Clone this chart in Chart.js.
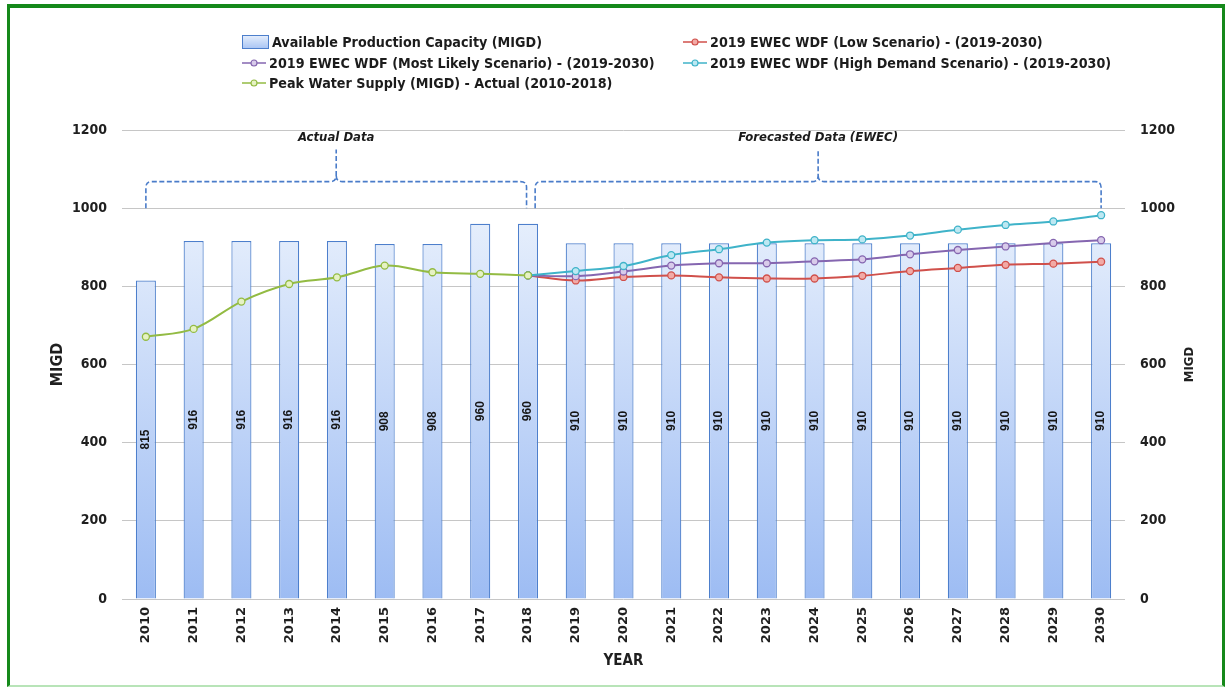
<!DOCTYPE html>
<html>
<head>
<meta charset="utf-8">
<title>Water Production Capacity vs Demand</title>
<script src="https://cdn.jsdelivr.net/npm/chart.js@4.4.0/dist/chart.umd.min.js"></script>
<style>
  html, body { margin: 0; padding: 0; background: #fff; }
  #wrap { position: relative; width: 1227px; height: 687px; overflow: hidden; }
  #chart { position: absolute; left: 0; top: 0; }
  #frame {
    position: absolute; left: 7px; top: 4px; right: 2px; bottom: 0;
    border: 3px solid #15891a; border-top-width: 4px;
    border-bottom: 2px solid #b8e4b8;
    pointer-events: none;
  }
  #legend {
    position: absolute; left: 242px; top: 32px;
    display: grid; grid-template-columns: 441px auto;
    font: bold 14.2px 'Liberation Sans Narrow', 'DejaVu Sans Condensed', sans-serif;
    color: #1c1c1c;
  }
  #legend .item { display: flex; align-items: center; height: 20.5px; white-space: nowrap; }
  #legend svg { margin-right: 3px; flex: none; }
</style>
</head>
<body>
<div id="wrap">
  <canvas id="chart" width="1227" height="687"></canvas>
  <div id="legend"></div>
  <div id="frame"></div>
</div>
<script>
const years = ['2010', '2011', '2012', '2013', '2014', '2015', '2016', '2017', '2018', '2019',
  '2020', '2021', '2022', '2023', '2024', '2025', '2026', '2027', '2028', '2029', '2030'];

const capacity = [815, 916, 916, 916, 916, 908, 908, 960, 960, 910,
  910, 910, 910, 910, 910, 910, 910, 910, 910, 910, 910];

const peakSupply = [671, 691, 761, 806, 823, 853, 836, 832, 828, null,
  null, null, null, null, null, null, null, null, null, null, null];

const lowScenario = [null, null, null, null, null, null, null, null, 828, 815,
  824, 828, 823, 820, 820, 827, 839, 847, 855, 858, 863];

const mostLikely = [null, null, null, null, null, null, null, null, 828, 826,
  838, 853, 859, 859, 864, 869, 882, 893, 902, 911, 918];

const highDemand = [null, null, null, null, null, null, null, null, 828, 839,
  852, 880, 895, 912, 918, 920, 930, 945, 957, 966, 982];

// bracket spans over the category axis (index units)
const brackets = [
  { from: 0, to: 7.97, text: 'Actual Data' },
  { from: 8.15, to: 20, text: 'Forecasted Data (EWEC)' },
];

const narrow = "'Liberation Sans Narrow', 'DejaVu Sans Condensed', sans-serif";
const axisText = '#1f1f1f';

function barFill(context) {
  const chart = context.chart;
  const area = chart.chartArea;
  if (!area) return '#c6d9f7';
  const top = chart.scales.y.getPixelForValue(Math.max(...capacity));
  const g = chart.ctx.createLinearGradient(0, top, 0, area.bottom);
  g.addColorStop(0, '#e5eefc');
  g.addColorStop(1, '#9dbcf3');
  return g;
}

function lineSet(label, data, color, fill, order) {
  return {
    type: 'line',
    label,
    data,
    borderColor: color,
    backgroundColor: fill,
    pointBackgroundColor: fill,
    pointBorderColor: color,
    pointRadius: 3.5,
    pointBorderWidth: 1.3,
    borderWidth: 2,
    tension: 0.35,
    order,
    yAxisID: 'y',
  };
}

const datasets = [
  {
    type: 'bar',
    label: 'Available Production Capacity (MIGD)',
    data: capacity,
    backgroundColor: barFill,
    borderColor: '#4d7fcc',
    borderWidth: 1.2,
    barPercentage: 0.42,
    categoryPercentage: 1,
    order: 5,
    yAxisID: 'y',
  },
  lineSet('2019 EWEC WDF (Low Scenario) - (2019-2030)', lowScenario, '#d0504b', '#f2aaa6', 4),
  lineSet('2019 EWEC WDF (Most Likely Scenario) - (2019-2030)', mostLikely, '#8566b0', '#d8cbea', 3),
  lineSet('2019 EWEC WDF (High Demand Scenario) - (2019-2030)', highDemand, '#3fb3c9', '#bde8f2', 2),
  lineSet('Peak Water Supply (MIGD) - Actual (2010-2018)', peakSupply, '#93bb43', '#e6f2c4', 1),
];

function drawBracket(c, x0, x1, yb, yh, yt, r) {
  const xm = (x0 + x1) / 2;
  c.beginPath();
  c.moveTo(x0, yb);
  c.lineTo(x0, yh + r);
  c.quadraticCurveTo(x0, yh, x0 + r, yh);
  c.lineTo(xm - r, yh);
  c.quadraticCurveTo(xm, yh, xm, yh - r);
  c.lineTo(xm, yt);
  c.moveTo(xm, yh - r);
  c.quadraticCurveTo(xm, yh, xm + r, yh);
  c.lineTo(x1 - r, yh);
  c.quadraticCurveTo(x1, yh, x1, yh + r);
  c.lineTo(x1, yb);
  c.stroke();
}

const overlay = {
  id: 'overlay',
  afterDatasetDraw(chart, args) {
    if (args.index !== 0) return;
    const c = chart.ctx;
    c.save();
    c.font = "bold 12px 'Liberation Sans', sans-serif";
    c.fillStyle = '#161616';
    c.textAlign = 'center';
    c.textBaseline = 'middle';
    args.meta.data.forEach((bar, i) => {
      c.save();
      c.translate(bar.x, (bar.y + bar.base) / 2);
      c.rotate(-Math.PI / 2);
      c.fillText(String(capacity[i]), 0, 0);
      c.restore();
    });
    c.restore();
  },
  afterDraw(chart) {
    const c = chart.ctx;
    const x = chart.scales.x;
    const y = chart.scales.y;
    const y2 = chart.scales.y2;
    c.save();
    c.strokeStyle = '#4a7cc9';
    c.lineWidth = 1.6;
    c.setLineDash([5, 2.5]);
    brackets.forEach((b) => {
      drawBracket(c, x.getPixelForValue(b.from), x.getPixelForValue(b.to),
        y.getPixelForValue(1000), y.getPixelForValue(1068), y.getPixelForValue(1150), 6);
    });
    c.setLineDash([]);
    c.font = 'italic bold 13px ' + narrow;
    c.fillStyle = '#1a1a1a';
    c.textAlign = 'center';
    c.textBaseline = 'middle';
    brackets.forEach((b) => {
      const xm = (x.getPixelForValue(b.from) + x.getPixelForValue(b.to)) / 2;
      c.fillText(b.text, xm, y.getPixelForValue(1180));
    });

    // right axis title reads bottom-to-top like the left one
    c.save();
    c.font = 'bold 13px ' + narrow;
    c.fillStyle = axisText;
    c.translate(y2.right - 8, (y2.top + y2.bottom) / 2);
    c.rotate(-Math.PI / 2);
    c.fillText('MIGD', 0, 0);
    c.restore();
    c.restore();
  },
};

const tickFont = { family: narrow, size: 14, weight: 'bold' };
const plainNumber = (v) => String(v);

new Chart(document.getElementById('chart'), {
  data: { labels: years, datasets },
  options: {
    responsive: false,
    animation: false,
    layout: { padding: { left: 48, right: 29, top: 130, bottom: 17 } },
    plugins: {
      legend: { display: false },
      tooltip: { enabled: false },
    },
    scales: {
      x: {
        grid: { display: false, drawTicks: false },
        border: { display: false },
        ticks: {
          maxRotation: 90,
          minRotation: 90,
          padding: 8,
          color: axisText,
          font: { family: "'DejaVu Sans', sans-serif", size: 13, weight: 'bold' },
        },
        title: {
          display: true, text: 'YEAR', color: axisText, padding: 0,
          font: { family: narrow, size: 15, weight: 'bold' },
        },
        afterFit: (s) => { s.height = 71; },
      },
      y: {
        position: 'left',
        min: 0,
        max: 1200,
        grid: { color: '#c6c6c6', drawTicks: false },
        border: { display: false },
        ticks: { stepSize: 200, padding: 15, color: axisText, font: tickFont, callback: plainNumber },
        title: {
          display: true, text: 'MIGD', color: axisText, padding: 0,
          font: { family: narrow, size: 16, weight: 'bold' },
        },
        afterFit: (s) => { s.width = 74; },
      },
      y2: {
        position: 'right',
        min: 0,
        max: 1200,
        grid: { display: false, drawTicks: false },
        border: { display: false },
        ticks: { stepSize: 200, padding: 15, color: axisText, font: tickFont, callback: plainNumber },
        afterFit: (s) => { s.width = 73; },
      },
    },
  },
  plugins: [overlay],
});

// legend: two columns, filled row by row
const legendBox = document.getElementById('legend');
datasets.forEach((ds) => {
  const item = document.createElement('div');
  item.className = 'item';
  let marker;
  if (ds.type === 'bar') {
    marker = '<svg width="27" height="14"><defs><linearGradient id="lg" x1="0" y1="0" x2="0" y2="1">' +
      '<stop offset="0" stop-color="#e5eefc"/><stop offset="1" stop-color="#a9c5f4"/></linearGradient></defs>' +
      '<rect x="0.5" y="0.5" width="26" height="13" fill="url(#lg)" stroke="' + ds.borderColor + '"/></svg>';
  } else {
    marker = '<svg width="24" height="10"><line x1="0" y1="5" x2="24" y2="5" stroke="' + ds.borderColor +
      '" stroke-width="1.5"/><circle cx="12" cy="5" r="3" fill="' + ds.pointBackgroundColor +
      '" stroke="' + ds.borderColor + '" stroke-width="1.2"/></svg>';
  }
  item.innerHTML = marker + '<span>' + ds.label + '</span>';
  legendBox.appendChild(item);
});
</script>
</body>
</html>
